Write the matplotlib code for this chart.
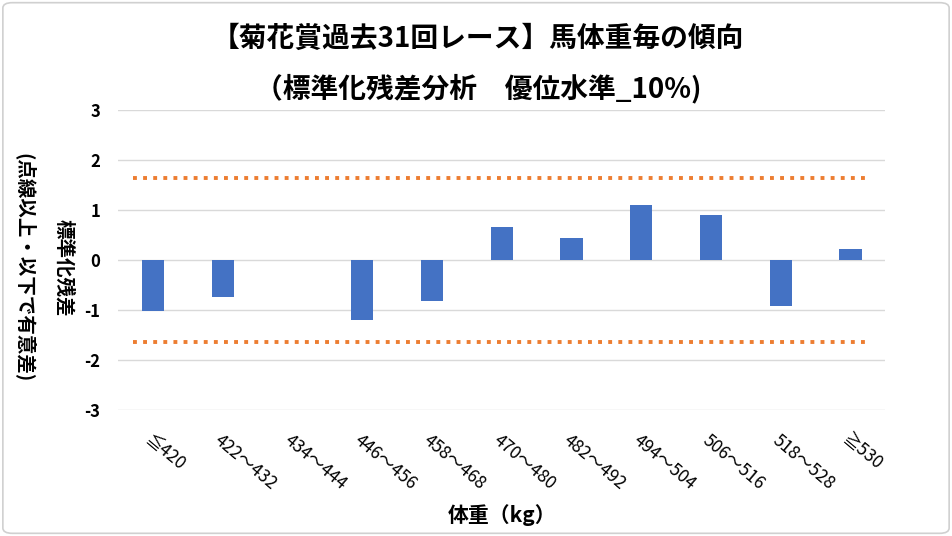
import matplotlib.pyplot as plt
from matplotlib.patches import FancyBboxPatch
import numpy as np

plt.rcParams["font.family"] = ["Noto Sans CJK JP", "DejaVu Sans"]

categories = ["≦420", "422～432", "434～444", "446～456", "458～468", "470～480",
              "482～492", "494～504", "506～516", "518～528", "≧530"]
residuals = [-1.02, -0.74, 0.0, -1.2, -0.82, 0.66, 0.44, 1.1, 0.9, -0.92, 0.22]
threshold = 1.645
yticks = [-3, -2, -1, 0, 1, 2, 3]

fig = plt.figure(figsize=(9.52, 5.36), dpi=100)
ax = fig.add_axes([0.124, 0.235, 0.806, 0.56])

x = np.arange(len(categories))
ax.bar(x, residuals, width=0.32, color="#4472C4", zorder=3)
ax.axhline(threshold, color="#ED7D31", linestyle=(0, (1, 1.6)), linewidth=2.8, zorder=4,
           xmin=0.02, xmax=0.98)
ax.axhline(-threshold, color="#ED7D31", linestyle=(0, (1, 1.6)), linewidth=2.8, zorder=4,
           xmin=0.02, xmax=0.98)

ax.set_xlim(-0.5, len(categories) - 0.5)
ax.set_ylim(-3, 3)
ax.set_yticks(yticks)
ax.set_yticklabels([str(v) for v in yticks], fontweight="bold", fontsize=12)
ax.grid(axis="y", color="#d9d9d9", linewidth=1, zorder=0)
for s in ax.spines.values():
    s.set_visible(False)
ax.tick_params(axis="both", length=0)
ax.tick_params(axis="y", pad=13)

ax.set_xticks(x)
ax.set_xticklabels(categories, rotation=-40, ha="left", rotation_mode="anchor", fontsize=12.5)
ax.tick_params(axis="x", pad=15)

ax.set_xlabel("体重（kg）", fontweight="bold", fontsize=15, labelpad=8)

fig.text(0.067, 0.5, "標準化残差", rotation=-90, ha="center", va="center",
         fontsize=14, fontweight="bold")
fig.text(0.026, 0.5, "(点線以上・以下で有意差)", rotation=-90, ha="center", va="center",
         fontsize=14, fontweight="bold")

fig.text(0.502, 0.928, "【菊花賞過去31回レース】馬体重毎の傾向", ha="center", va="center",
         fontsize=20, fontweight="bold")
fig.text(0.502, 0.835, "（標準化残差分析　優位水準_10%)", ha="center", va="center",
         fontsize=20, fontweight="bold")

border = FancyBboxPatch((0.003, 0.005), 0.994, 0.99, boxstyle="round,pad=0,rounding_size=0.01",
                        transform=fig.transFigure, fill=False, edgecolor="#d0d0d0", linewidth=1.2)
fig.patches.append(border)

fig.savefig("out.png", dpi=100)
